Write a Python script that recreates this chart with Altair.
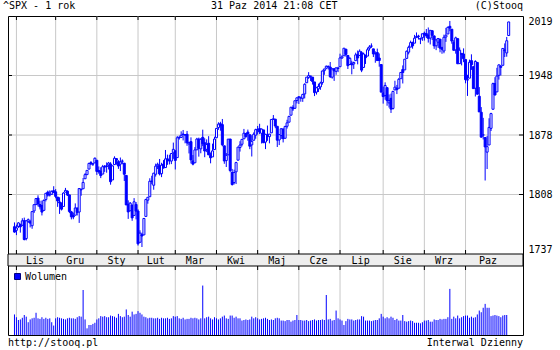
import altair as alt
import pandas as pd

# ---------------- texts ----------------
title_left = "^SPX - 1 rok"
title_mid = "31 Paz 2014 21:08 CET"
title_right = "(C)Stooq"
footer_left = "http://stooq.pl"
footer_right = "Interwal Dzienny"
legend_label = "Wolumen"

# ---------------- x axis: months ----------------
month_labels = ["Lis", "Gru", "Sty", "Lut", "Mar", "Kwi", "Maj", "Cze", "Lip", "Sie", "Wrz", "Paz"]
month_start_idx = [1, 21, 42, 63, 82, 103, 124, 145, 166, 188, 209, 230]
last_bar_end = 254

# ---------------- y axis labels ----------------
price_tick_labels = ["1737", "1808", "1878", "1948", "2019"]

# ---------------- OHLC (31.10.2013 - 31.10.2014) ----------------
opens = [1763.2,
 1758.7, 1763.4, 1765.7, 1765.0, 1770.7, 1748.4, 1769.9, 1769.5, 1764.4, 1782.8, 1790.7, 1798.8, 1790.8, 1789.6, 1783.5, 1797.0, 1806.3, 1802.9, 1803.5, 1808.0,
 1806.6, 1800.1, 1794.0, 1792.8, 1788.4, 1806.2, 1807.5, 1802.8, 1781.7, 1777.0, 1777.5, 1786.5, 1781.5, 1809.0, 1810.4, 1822.9, 1828.0, 1834.9, 1843.0, 1841.5, 1842.6,
 1845.9, 1833.2, 1832.3, 1828.7, 1837.9, 1839.0, 1840.1, 1841.3, 1821.4, 1840.5, 1848.0, 1844.2, 1841.1, 1844.7, 1842.3, 1827.0, 1791.0, 1783.0, 1790.2, 1777.2, 1790.9,
 1782.7, 1743.8, 1753.4, 1753.0, 1776.0, 1796.2, 1800.5, 1820.1, 1814.8, 1828.5, 1839.0, 1838.9, 1829.2, 1841.1, 1836.8, 1847.7, 1845.8, 1844.9, 1855.1,
 1857.7, 1849.2, 1874.1, 1874.2, 1878.5, 1877.9, 1878.3, 1866.2, 1869.1, 1845.1, 1842.8, 1858.9, 1872.3, 1860.1, 1874.5, 1867.7, 1859.5, 1867.1, 1852.1, 1850.1, 1859.2,
 1874.0, 1886.6, 1891.4, 1890.3, 1863.9, 1845.5, 1852.6, 1872.3, 1830.7, 1818.2, 1831.5, 1846.0, 1861.7, 1865.8, 1872.6, 1879.3, 1881.0, 1877.7, 1865.0, 1870.8, 1877.1,
 1884.4, 1885.3, 1879.5, 1883.7, 1868.5, 1877.4, 1875.3, 1880.0, 1896.8, 1897.1, 1888.2, 1871.2, 1876.7, 1884.9, 1873.3, 1888.2, 1893.3, 1902.0, 1911.8, 1910.6, 1920.3,
 1923.9, 1923.1, 1923.1, 1928.5, 1942.4, 1949.0, 1950.3, 1949.4, 1943.4, 1930.8, 1934.8, 1937.2, 1942.7, 1957.5, 1960.5, 1962.9, 1962.0, 1949.3, 1959.9, 1956.6, 1960.8,
 1962.3, 1973.1, 1975.9, 1984.2, 1976.4, 1965.1, 1966.7, 1965.8, 1969.9, 1977.4, 1976.4, 1979.8, 1961.5, 1976.9, 1975.6, 1985.3, 1988.1, 1984.6, 1978.3, 1980.0, 1973.2, 1965.1,
 1929.8, 1926.6, 1936.3, 1917.3, 1923.0, 1910.4, 1933.4, 1935.7, 1935.6, 1947.4, 1958.9, 1958.4, 1972.7, 1980.5, 1986.8, 1992.6, 1991.7, 1998.6, 2000.5, 1997.4, 1998.5,
 2004.1, 2003.6, 2001.7, 1998.0, 2007.2, 2000.7, 1988.4, 1992.9, 1996.7, 1986.0, 1981.9, 1999.3, 2003.1, 2012.7, 2009.1, 1992.8, 1983.3, 1997.3, 1966.2, 1979.0, 1978.2,
 1971.4, 1945.8, 1948.1, 1970.0, 1962.4, 1935.6, 1967.7, 1925.6, 1905.7, 1877.1, 1874.2, 1856.0, 1864.9, 1885.6, 1909.4, 1941.3, 1931.0, 1951.6, 1963.0, 1964.1, 1983.3, 1979.5, 2001.2]

highs = [1768.5,
 1765.7, 1768.8, 1767.0, 1773.7, 1774.5, 1770.8, 1773.4, 1771.8, 1782.0, 1791.0, 1798.2, 1802.3, 1795.5, 1795.7, 1797.2, 1804.8, 1808.1, 1808.4, 1808.3, 1813.6,
 1810.0, 1800.1, 1799.8, 1792.8, 1806.0, 1811.5, 1808.4, 1802.8, 1782.9, 1780.8, 1792.2, 1786.8, 1811.1, 1810.9, 1823.8, 1829.8, 1833.3, 1842.8, 1844.9, 1842.5, 1849.4,
 1845.9, 1838.2, 1837.2, 1840.1, 1840.0, 1843.2, 1843.8, 1843.5, 1839.3, 1850.8, 1848.0, 1846.0, 1849.3, 1846.9, 1842.3, 1827.0, 1796.0, 1793.9, 1790.2, 1798.8, 1793.9,
 1784.8, 1758.7, 1755.8, 1774.1, 1798.0, 1799.9, 1823.5, 1826.6, 1830.3, 1841.7, 1842.9, 1847.5, 1842.8, 1846.1, 1858.7, 1852.9, 1852.7, 1854.5, 1867.9,
 1857.7, 1876.2, 1876.5, 1881.9, 1883.6, 1877.9, 1882.4, 1868.4, 1874.4, 1852.4, 1862.3, 1873.8, 1874.1, 1873.5, 1884.0, 1873.3, 1871.9, 1875.9, 1855.6, 1866.6, 1875.2,
 1885.8, 1893.2, 1893.8, 1897.3, 1864.0, 1854.9, 1872.4, 1872.5, 1835.1, 1834.2, 1844.0, 1862.3, 1869.6, 1871.9, 1884.9, 1879.8, 1884.1, 1877.7, 1877.0, 1880.6, 1885.2,
 1888.6, 1891.3, 1885.5, 1883.7, 1878.8, 1889.1, 1878.6, 1897.1, 1902.2, 1897.1, 1888.2, 1878.3, 1886.0, 1884.9, 1888.8, 1896.3, 1901.3, 1912.3, 1914.5, 1920.0, 1924.0,
 1925.9, 1925.1, 1928.6, 1941.7, 1949.4, 1955.6, 1950.9, 1949.4, 1943.4, 1937.3, 1941.2, 1943.7, 1957.7, 1959.9, 1963.9, 1963.7, 1968.2, 1960.8, 1959.9, 1961.0, 1962.3,
 1978.6, 1976.7, 1985.6, 1984.2, 1976.4, 1974.2, 1969.8, 1968.7, 1979.8, 1982.5, 1983.9, 1981.8, 1979.9, 1976.9, 1986.2, 1989.2, 1991.4, 1984.6, 1981.5, 1984.9, 1978.9, 1965.1,
 1937.4, 1942.9, 1936.3, 1927.9, 1928.9, 1932.4, 1944.9, 1939.7, 1948.4, 1955.2, 1964.0, 1972.0, 1982.6, 1988.6, 1994.8, 1993.5, 2002.0, 2005.0, 2002.1, 1998.6, 2003.4,
 2006.1, 2009.3, 2011.2, 2007.7, 2007.2, 2001.0, 1996.7, 1997.7, 1996.7, 1987.2, 2002.3, 2010.7, 2012.3, 2019.3, 2009.1, 1995.4, 1999.8, 1997.3, 1986.4, 1979.0, 1985.2,
 1971.4, 1952.3, 1971.2, 1977.8, 1962.4, 1970.4, 1967.7, 1937.0, 1912.1, 1898.7, 1874.2, 1876.0, 1898.2, 1905.0, 1942.5, 1949.3, 1961.0, 1965.3, 1964.6, 1985.1, 1991.4, 1999.4, 2018.3]

lows = [1755.7,
 1752.7, 1761.6, 1755.8, 1764.4, 1746.2, 1746.2, 1767.9, 1762.3, 1760.6, 1780.2, 1790.7, 1788.4, 1784.7, 1777.2, 1783.5, 1794.7, 1800.6, 1800.8, 1802.8, 1805.8,
 1798.6, 1787.9, 1779.1, 1783.4, 1788.4, 1806.2, 1801.4, 1780.1, 1772.3, 1772.5, 1777.5, 1777.2, 1767.9, 1801.7, 1810.4, 1822.9, 1828.0, 1834.9, 1839.8, 1838.8, 1842.4,
 1827.7, 1829.1, 1823.7, 1828.7, 1831.4, 1830.4, 1834.4, 1815.5, 1821.4, 1840.5, 1840.3, 1835.2, 1832.4, 1840.9, 1820.1, 1790.3, 1772.9, 1783.0, 1770.5, 1777.2, 1772.3,
 1739.7, 1743.8, 1737.9, 1753.0, 1776.0, 1791.8, 1800.4, 1816.0, 1809.2, 1825.6, 1835.0, 1827.0, 1824.9, 1835.6, 1836.8, 1840.2, 1840.7, 1841.1, 1847.7,
 1834.4, 1849.2, 1871.6, 1874.2, 1870.6, 1867.0, 1863.9, 1854.4, 1841.9, 1839.6, 1842.8, 1858.9, 1850.4, 1854.6, 1863.5, 1849.7, 1856.0, 1852.6, 1842.1, 1850.1, 1859.2,
 1874.0, 1883.8, 1882.7, 1863.3, 1841.5, 1837.5, 1852.4, 1830.9, 1814.4, 1815.8, 1816.3, 1846.0, 1856.7, 1863.2, 1872.6, 1873.9, 1870.2, 1859.7, 1850.6, 1870.8, 1872.7,
 1878.0, 1878.5, 1866.8, 1867.7, 1859.8, 1870.1, 1867.0, 1880.0, 1896.0, 1885.8, 1862.4, 1864.8, 1872.4, 1868.1, 1873.3, 1885.4, 1893.3, 1902.0, 1907.3, 1909.8, 1916.6,
 1916.0, 1918.8, 1918.6, 1922.9, 1942.4, 1947.2, 1944.6, 1940.1, 1925.8, 1927.7, 1930.9, 1933.6, 1940.0, 1952.3, 1959.2, 1958.9, 1948.3, 1947.5, 1944.7, 1952.3, 1955.6,
 1962.3, 1972.6, 1975.9, 1974.9, 1959.5, 1965.1, 1952.9, 1959.6, 1969.9, 1965.3, 1975.7, 1955.6, 1960.8, 1965.8, 1975.6, 1982.4, 1985.8, 1974.4, 1967.3, 1970.0, 1962.4, 1930.7,
 1916.4, 1921.2, 1913.8, 1911.5, 1904.8, 1909.0, 1933.4, 1928.3, 1935.6, 1947.4, 1941.5, 1958.4, 1972.7, 1977.7, 1986.8, 1984.8, 1991.7, 1998.6, 1996.2, 1990.5, 1994.6,
 1994.9, 1998.1, 1992.4, 1990.1, 1995.6, 1984.6, 1983.0, 1985.9, 1980.3, 1978.5, 1979.1, 1993.3, 2003.1, 2006.6, 1991.0, 1982.8, 1978.6, 1966.0, 1966.2, 1964.0, 1968.0,
 1941.7, 1926.0, 1948.1, 1958.4, 1935.1, 1925.3, 1927.6, 1906.1, 1874.1, 1871.8, 1820.7, 1835.0, 1864.9, 1882.3, 1909.4, 1927.1, 1931.0, 1946.3, 1951.4, 1964.1, 1974.4, 1974.8, 2001.2]

closes = [1756.5,
 1761.6, 1767.9, 1763.0, 1770.5, 1747.2, 1770.6, 1771.9, 1767.7, 1782.0, 1790.6, 1798.2, 1791.5, 1787.9, 1781.4, 1795.9, 1804.8, 1802.5, 1802.8, 1807.2, 1805.8,
 1800.9, 1795.2, 1792.8, 1785.0, 1805.1, 1808.4, 1802.6, 1782.2, 1775.5, 1775.3, 1786.5, 1781.0, 1810.7, 1809.6, 1818.3, 1828.0, 1833.3, 1842.0, 1841.4, 1841.1, 1848.4,
 1832.0, 1831.4, 1826.8, 1837.9, 1837.5, 1838.1, 1842.4, 1819.2, 1838.9, 1848.4, 1845.9, 1838.7, 1843.8, 1844.9, 1828.5, 1790.3, 1781.6, 1792.5, 1774.2, 1794.2, 1782.6,
 1741.9, 1755.2, 1751.6, 1773.4, 1797.0, 1799.8, 1819.8, 1819.3, 1829.8, 1838.6, 1840.8, 1828.8, 1839.8, 1836.3, 1847.6, 1845.1, 1845.2, 1854.3, 1859.5,
 1845.7, 1873.9, 1873.8, 1877.0, 1878.0, 1877.2, 1867.6, 1868.2, 1846.3, 1841.1, 1858.8, 1872.3, 1860.8, 1872.0, 1866.5, 1857.4, 1865.6, 1852.6, 1849.0, 1857.6, 1872.3,
 1885.5, 1890.9, 1888.8, 1865.1, 1845.0, 1852.0, 1872.2, 1833.1, 1815.7, 1830.6, 1843.0, 1862.3, 1864.9, 1871.9, 1879.6, 1875.4, 1878.6, 1863.4, 1869.4, 1878.3, 1884.0,
 1883.7, 1881.1, 1884.7, 1867.7, 1878.2, 1875.6, 1878.5, 1896.7, 1897.5, 1888.5, 1870.9, 1877.9, 1885.1, 1872.8, 1888.0, 1892.5, 1900.5, 1911.9, 1909.8, 1920.0, 1923.6,
 1925.0, 1924.2, 1927.9, 1940.5, 1949.4, 1951.3, 1950.8, 1943.9, 1930.1, 1936.2, 1937.8, 1942.0, 1957.0, 1959.5, 1962.9, 1962.6, 1950.0, 1959.5, 1957.2, 1961.0, 1960.2,
 1973.3, 1974.6, 1985.4, 1977.7, 1963.7, 1972.8, 1964.7, 1967.6, 1977.1, 1973.3, 1981.6, 1958.1, 1978.2, 1973.6, 1983.5, 1987.0, 1988.0, 1978.3, 1978.9, 1970.0, 1970.1, 1930.7,
 1925.2, 1939.0, 1920.2, 1920.2, 1909.6, 1931.6, 1936.9, 1933.8, 1946.7, 1955.2, 1955.1, 1971.7, 1981.6, 1986.5, 1992.4, 1988.4, 1997.9, 2000.0, 2000.1, 1996.7, 2003.4,
 2002.3, 2000.7, 1997.7, 2007.7, 2001.5, 1988.4, 1995.7, 1997.5, 1985.5, 1984.1, 1999.0, 2001.6, 2011.4, 2010.4, 1994.3, 1982.8, 1998.3, 1966.0, 1982.9, 1977.8, 1972.3,
 1946.2, 1946.2, 1967.9, 1964.8, 1935.1, 1968.9, 1928.2, 1906.1, 1874.7, 1877.7, 1862.5, 1862.8, 1886.8, 1904.0, 1941.3, 1927.1, 1950.8, 1964.6, 1961.6, 1985.1, 1982.3, 1994.7, 2018.1]

# volume (mln), 31.10.2013 - 30.10.2014
volumes = [3700,
 3200, 2700, 2800, 3100, 3600, 3300, 2300, 2800, 3000, 3100, 4000, 3000, 2900, 3200, 2900, 3100, 2900, 3000, 2300, 1700,
 3000, 3200, 3100, 3000, 2900, 2800, 3000, 3100, 3000, 3000, 2900, 3200, 3400, 3300, 8100, 2800, 1200, 1800, 1800, 2000, 2200,
 2800, 3000, 3400, 3300, 3400, 3200, 3200, 3500, 3400, 3300, 3100, 3800, 3400, 3200, 3300, 4600, 3600, 3300, 4200, 3700, 3800,
 4300, 4000, 3700, 3300, 3200, 3000, 3100, 3100, 3000, 3000, 3100, 2900, 3100, 3000, 3000, 3100, 2900, 3000, 3400,
 3300, 3400, 3000, 2900, 3100, 2800, 2900, 2900, 3100, 3000, 3100, 3000, 2800, 3000, 8900, 3000, 3200, 3300, 3000, 2800, 3200,
 3000, 2800, 3000, 3300, 3500, 3000, 2900, 3500, 3500, 3100, 3300, 3000, 3000, 2600, 2700, 2800, 2700, 2800, 3300, 3000, 3200,
 3000, 2800, 2900, 3000, 3100, 2900, 2700, 2800, 2700, 3000, 3100, 3000, 2600, 2600, 2500, 2700, 2700, 2400, 2600, 2700, 3600,
 2700, 2700, 2600, 2600, 2700, 2500, 2600, 2700, 2800, 2600, 2700, 2700, 2800, 2700, 7200, 2800, 2900, 2600, 2700, 4400, 3000,
 2800, 2600, 1800, 2500, 2900, 2800, 2800, 2600, 2700, 2800, 2800, 3400, 3300, 2600, 2600, 2600, 2500, 2600, 2700, 2700, 3000, 3800,
 3300, 3000, 3200, 3000, 3300, 3100, 2700, 2900, 2600, 2600, 3600, 2500, 2400, 2500, 2600, 2500, 2200, 2200, 2200, 2100, 2300,
 2600, 2600, 2700, 2400, 2400, 2800, 2700, 2700, 2900, 2800, 2900, 2900, 3200, 8300, 2900, 3300, 3000, 3500, 3000, 3200, 3400,
 3500, 3500, 3100, 3300, 3100, 3200, 3700, 4400, 4100, 4900, 5600, 4900, 4900, 3400, 3500, 3600, 3500, 3400, 3200, 3500, 3600, 3600]

# ---------------- styling / layout ----------------
FONT = "DejaVu Sans Mono"
BLUE = "#0000ff"
GRID = "#c8c8c8"
BAND = "#eeeeee"
W, H = 515, 319
PRICE_BOTTOM = 238
BAND_BOTTOM = 250

n = len(opens)
price_df = pd.DataFrame({"i": list(range(n)), "o": opens, "h": highs, "l": lows, "c": closes})
vol_df = pd.DataFrame({"i": list(range(len(volumes))), "v": volumes})

ends = month_start_idx[1:] + [last_bar_end]
month_df = pd.DataFrame({
    "start": month_start_idx,
    "mid": [(s + e) / 2 - 0.5 for s, e in zip(month_start_idx, ends)],
    "label": month_labels,
})

p_lo, p_hi = 1729.2, 2025.5
tick_vals = [p_lo + k * (p_hi - p_lo) / 4 for k in range(5)]
inner_df = pd.DataFrame({"v": tick_vals[1:4]})

# label expression mapping tick positions to their labels
step = (p_hi - p_lo) / 4
expr = "'" + price_tick_labels[-1] + "'"
for k in range(3, -1, -1):
    expr = f"datum.value < {tick_vals[k] + step / 2} ? '{price_tick_labels[k]}' : ({expr})"

# 2 px per trading day, bar centres on half pixels
x_scale = alt.Scale(domain=[-0.75, 256.75], nice=False, zero=False)
y_price = alt.Scale(domain=[p_lo, p_hi], range=[PRICE_BOTTOM, 0], nice=False, zero=False)
y_vol = alt.Scale(domain=[0, 12420], range=[H, BAND_BOTTOM], nice=False, zero=True)

price_axis = alt.Axis(orient="right", values=tick_vals, labelExpr=expr, ticks=False, domain=False,
                      grid=False, labelFlush=True, labelPadding=5, labelFont=FONT, labelFontSize=10,
                      labelColor="black", title=None)

X = alt.X("i:Q", scale=x_scale, axis=None)
XS = alt.X("start:Q", scale=x_scale, axis=None)

# vertical grid lines (price + volume panels)
vgrid_p = alt.Chart(month_df).mark_rule(color=GRID, strokeWidth=1).encode(
    x=XS, y=alt.value(0), y2=alt.value(PRICE_BOTTOM))
vgrid_v = alt.Chart(month_df).mark_rule(color=GRID, strokeWidth=1).encode(
    x=XS, y=alt.value(BAND_BOTTOM), y2=alt.value(H))

# small black month ticks
mt1 = alt.Chart(month_df).mark_rule(color="black").encode(x=XS, y=alt.value(0), y2=alt.value(4))
mt2 = alt.Chart(month_df).mark_rule(color="black").encode(
    x=XS, y=alt.value(PRICE_BOTTOM - 4), y2=alt.value(PRICE_BOTTOM))
mt3 = alt.Chart(month_df).mark_rule(color="black").encode(
    x=XS, y=alt.value(BAND_BOTTOM), y2=alt.value(BAND_BOTTOM + 4))

# price panel layers
hgrid = alt.Chart(inner_df).mark_rule(color=GRID, strokeWidth=1).encode(
    y=alt.Y("v:Q", scale=y_price, axis=price_axis), x=alt.value(0), x2=alt.value(W))
ytl = alt.Chart(inner_df).mark_rule(color="black").encode(
    y=alt.Y("v:Q", scale=y_price, axis=price_axis), x=alt.value(0), x2=alt.value(4))
ytr = alt.Chart(inner_df).mark_rule(color="black").encode(
    y=alt.Y("v:Q", scale=y_price, axis=price_axis), x=alt.value(W - 4), x2=alt.value(W))
wick = alt.Chart(price_df).mark_rule(color=BLUE, strokeWidth=1).encode(
    x=X, y=alt.Y("l:Q", scale=y_price, axis=price_axis), y2="h:Q")
body = alt.Chart(price_df).mark_bar(size=2, stroke=BLUE, strokeWidth=1).encode(
    x=X, y=alt.Y("o:Q", scale=y_price, axis=price_axis), y2="c:Q",
    fill=alt.condition("datum.c >= datum.o", alt.value("white"), alt.value(BLUE)))
price = alt.layer(hgrid, ytl, ytr, wick, body)

# volume panel
vol = alt.Chart(vol_df).mark_rule(color=BLUE, strokeWidth=1).encode(
    x=X, y=alt.Y("v:Q", scale=y_vol, axis=None), y2=alt.value(H))

# month band
band = alt.Chart(pd.DataFrame({"a": [0]})).mark_rect(fill=BAND, stroke="black", strokeWidth=1).encode(
    x=alt.value(0), x2=alt.value(W), y=alt.value(PRICE_BOTTOM), y2=alt.value(BAND_BOTTOM))
mlabels = alt.Chart(month_df).mark_text(font=FONT, fontSize=10, color="black", baseline="alphabetic").encode(
    x=alt.X("mid:Q", scale=x_scale, axis=None), y=alt.value(PRICE_BOTTOM + 10), text="label:N")


def txt(s, x, y, align="left"):
    return alt.Chart(pd.DataFrame({"t": [s]})).mark_text(
        font=FONT, fontSize=10, color="black", align=align, baseline="alphabetic").encode(
        text="t:N", x=alt.value(x), y=alt.value(y))


t1 = txt(title_left, -5, -7)
t2 = txt(title_mid, 203, -7)
t3 = txt(title_right, W, -7, "right")
f1 = txt(footer_left, 0, 329.5)
f2 = txt(footer_right, W, 329.5, "right")
leg_txt = txt(legend_label, 17, 263.5)
leg_sq = alt.Chart(pd.DataFrame({"a": [0]})).mark_rect(fill=BLUE, stroke="#000080", strokeWidth=1).encode(
    x=alt.value(6.5), x2=alt.value(12.5), y=alt.value(257.5), y2=alt.value(263.5))

chart = alt.layer(
    vgrid_p, vgrid_v, mt1, mt2, mt3, band, mlabels, price, vol,
    t1, t2, t3, f1, f2, leg_sq, leg_txt
).resolve_scale(y="independent").properties(
    width=W, height=H,
    autosize=alt.AutoSizeParams(type="none"),
    padding={"left": 8, "top": 16, "right": 37, "bottom": 15},
    background="white",
).configure_view(stroke="black", strokeWidth=1)

chart.save("out.html", embed_options={"renderer": "svg", "actions": False})
